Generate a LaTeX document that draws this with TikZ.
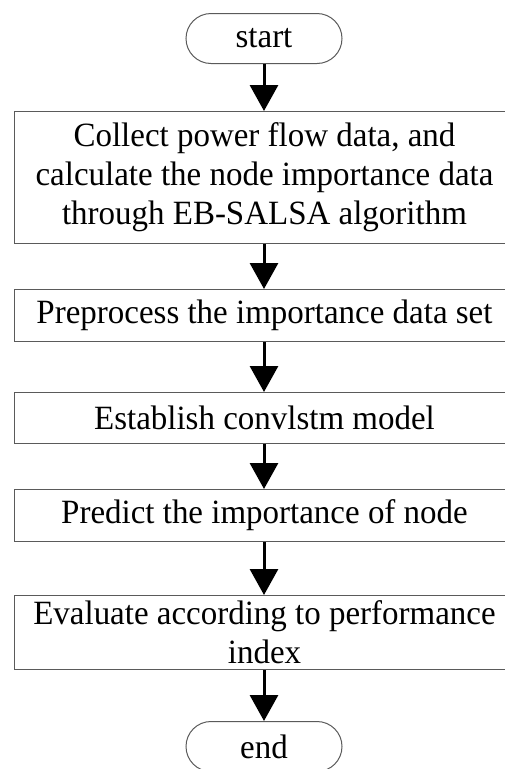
\documentclass[tikz,border=0pt]{standalone}
\usepackage{fontspec}
\setmainfont[FakeStretch=0.97]{Liberation Serif}
\usetikzlibrary{arrows.meta}
\definecolor{boxgray}{RGB}{90,90,90}
\begin{document}
\begin{tikzpicture}[x=1pt,y=-1pt,
  box/.style={draw=boxgray, line width=1pt, rectangle, minimum width=500pt, inner sep=0pt, align=center, font=\fontsize{34}{39}\selectfont, anchor=north},
  term/.style={draw=boxgray, line width=1pt, rectangle, rounded corners=25pt, minimum width=156pt, minimum height=50pt, inner sep=0pt, font=\fontsize{34}{39}\selectfont, anchor=north},
  flow/.style={line width=3pt, -{Triangle[width=28pt,length=26pt]}}]
\useasboundingbox (0,0) rectangle (505,769);
\clip (0,0) rectangle (505,769);
\node[term] (start) at (264,13) {start};
\node[box, minimum height=132pt] (b1) at (264.5,111) {Collect power flow data, and\\calculate the node importance data\\through EB-SALSA algorithm};
\node[box, minimum height=52pt] (b2) at (264.5,289) {Preprocess the importance data set};
\node[box, minimum height=51pt] (b3) at (264.5,392) {Establish convlstm model};
\node[box, minimum height=52pt] (b4) at (264.5,489) {Predict the importance of node};
\node[box, minimum height=74pt] (b5) at (264.5,595) {Evaluate according to performance\\index};
\node[term] (end) at (264,721) {end};
\draw[flow] (start) -- (start.south |- b1.north);
\draw[flow] (b1.south -| start) -- (start |- b2.north);
\draw[flow] (b2.south -| start) -- (start |- b3.north);
\draw[flow] (b3.south -| start) -- (start |- b4.north);
\draw[flow] (b4.south -| start) -- (start |- b5.north);
\draw[flow] (b5.south -| start) -- (end);
\end{tikzpicture}
\end{document}
